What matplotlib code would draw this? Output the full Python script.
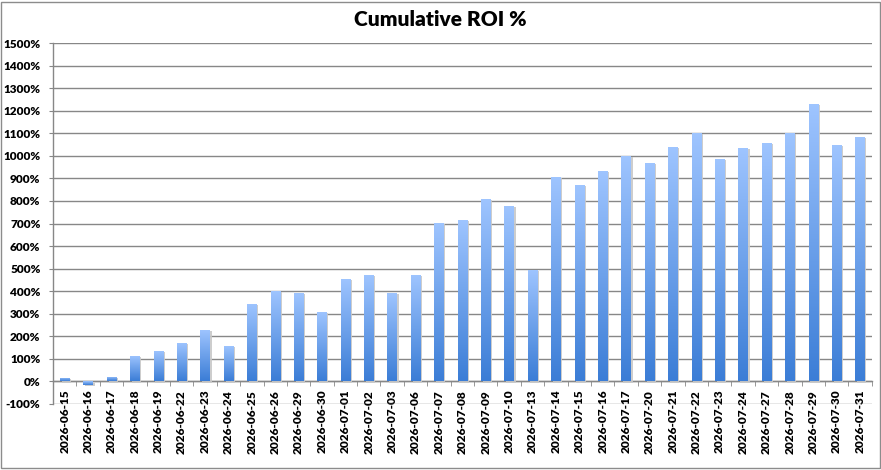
import matplotlib
matplotlib.use("Agg")
import matplotlib.pyplot as plt
import numpy as np
from matplotlib.colors import LinearSegmentedColormap
from matplotlib.patches import Rectangle
import matplotlib.patheffects as pe

dates = ["2026-06-15", "2026-06-16", "2026-06-17", "2026-06-18", "2026-06-19",
         "2026-06-22", "2026-06-23", "2026-06-24", "2026-06-25", "2026-06-26",
         "2026-06-29", "2026-06-30", "2026-07-01", "2026-07-02", "2026-07-03",
         "2026-07-06", "2026-07-07", "2026-07-08", "2026-07-09", "2026-07-10",
         "2026-07-13", "2026-07-14", "2026-07-15", "2026-07-16", "2026-07-17",
         "2026-07-20", "2026-07-21", "2026-07-22", "2026-07-23", "2026-07-24",
         "2026-07-27", "2026-07-28", "2026-07-29", "2026-07-30", "2026-07-31"]
roi = [16, -15, 20, 112, 136,
       170, 229, 158, 344, 401,
       393, 309, 455, 473, 393,
       473, 701, 715, 809, 777,
       493, 907, 870, 933, 998,
       969, 1038, 1100, 985, 1034,
       1058, 1100, 1229, 1047, 1083]
yticks = list(range(-100, 1501, 100))
title = "Cumulative ROI %"

FONT = "Lato"
WEIGHT = "heavy"
W, H = 881, 470
fig = plt.figure(figsize=(W / 100, H / 100), dpi=100)
ax = fig.add_axes([53 / W, 1 - 404 / H, (871.7 - 53) / W, (404 - 43) / H])

n = len(dates)
x = np.arange(n)
cmap = LinearSegmentedColormap.from_list("g", ["#3b7dd6", "#9fc5ff"])
grad = np.linspace(0, 1, 256).reshape(-1, 1)

bars = ax.bar(x, roi, width=0.4, color="#6fa0ea", zorder=3, linewidth=0)
for b, v in zip(bars, roi):
    b.set_path_effects([pe.SimplePatchShadow(offset=(1.3, -0.8), shadow_rgbFace="#c8c8c8", alpha=0.9),
                        pe.Normal()])
    x0 = b.get_x()
    x1 = x0 + b.get_width()
    lo, hi = min(0, v), max(0, v)
    img = ax.imshow(grad, cmap=cmap, aspect="auto", origin="lower",
                    extent=(x0, x1, lo, hi), zorder=4, interpolation="bilinear")
    img.set_clip_path(b)

ax.set_xlim(-0.5, n - 0.5)
ax.set_ylim(-100, 1500)
ax.set_yticks(yticks)
ax.set_yticklabels([f"{t}%" for t in yticks])
ax.yaxis.grid(True, color="#878787", linewidth=1.0, zorder=0)
ax.set_axisbelow(True)

for s in ["top", "right"]:
    ax.spines[s].set_visible(False)
ax.spines["left"].set_color("#878787")
ax.spines["left"].set_linewidth(1.0)
ax.spines["bottom"].set_position(("data", 0))
ax.spines["bottom"].set_color("#878787")
ax.spines["bottom"].set_linewidth(1.0)

ax.set_xticks(x)
ax.set_xticklabels(dates, rotation=90, fontfamily=FONT, fontweight=WEIGHT, fontsize=8.5)
ax.set_xticks(np.arange(-0.5, n, 1.0), minor=True)
ax.tick_params(axis="x", which="major", length=0, pad=6)
ax.tick_params(axis="x", which="minor", length=3.5, color="#878787", direction="out")
ax.tick_params(axis="y", length=3, color="#878787", pad=6)
for lbl in ax.get_yticklabels():
    lbl.set_fontfamily(FONT)
    lbl.set_fontweight(WEIGHT)
    lbl.set_fontsize(8.5)

fig.text(440.5 / W, 1 - 19 / H, title, ha="center", va="center",
         fontfamily=FONT, fontweight=WEIGHT, fontsize=15)

fig.patches.append(Rectangle((0.5 / W, 1 - 468 / H), 879 / W, 466.5 / H,
                             transform=fig.transFigure, fill=False,
                             edgecolor="#8c8c8c", linewidth=1.0))

fig.savefig("out.png", dpi=100)
